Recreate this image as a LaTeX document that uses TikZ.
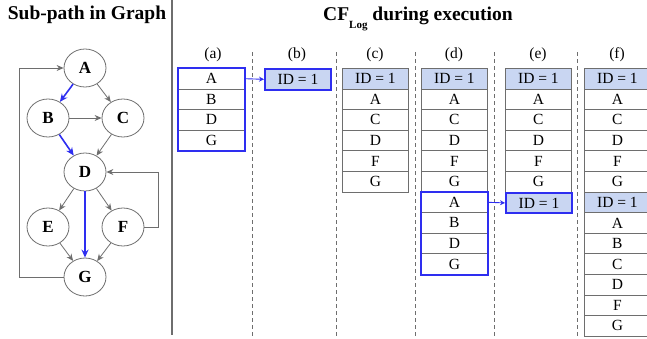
\documentclass[tikz,border=0pt]{standalone}
\usepackage{fontspec}
\setmainfont{Liberation Serif}
\usetikzlibrary{shapes.geometric,arrows.meta}
\definecolor{bblue}{HTML}{2E2EF0}
\definecolor{lblue}{HTML}{C9D6F2}
\definecolor{ggray}{HTML}{6E6E6E}
\tikzset{
  gnode/.style={ellipse,draw=ggray,line width=0.8pt,minimum width=42pt,minimum height=38pt,inner sep=0pt,font=\fontsize{17}{17}\selectfont\bfseries},
  garrow/.style={draw=ggray,line width=0.8pt,-{Stealth[length=7pt,width=6pt]}},
  barrow/.style={draw=bblue,line width=1.6pt,-{Stealth[length=8pt,width=7pt]}},
  cell/.style={rectangle,draw=ggray,line width=0.8pt,minimum width=66pt,minimum height=20.6pt,inner sep=0pt,anchor=north west,font=\fontsize{15.5}{15.5}\selectfont},
  idcell/.style={cell,fill=lblue},
  bluebox/.style={draw=bblue,line width=2pt},
  sarrow/.style={draw=bblue,line width=0.9pt,-{Stealth[length=5pt,width=5pt]}},
  sep/.style={draw=ggray,line width=0.8pt,dash pattern=on 4pt off 3pt},
  lab/.style={font=\fontsize{15.5}{15.5}\selectfont},
  ttl/.style={font=\fontsize{19.5}{19.5}\selectfont\bfseries,inner sep=0pt}
}
\newcommand\cellstack[5]{% prefix, x, y, start index, list
  \foreach \t [count=\i from #4] in {#5} {
    \node[cell] (#1-\i) at (#2, {#3+(\i-#4)*20.6}) {\t};
  }
}
\begin{document}
\begin{tikzpicture}[x=1pt,y=-1pt]
\useasboundingbox (0,0) rectangle (647,338);
\clip (0,0) rectangle (647,338);
% titles
\node[ttl,anchor=base] (t1) at (87,19) {Sub-path in Graph};
\node[ttl,anchor=base west] (t2) at (323,20) {CF\raisebox{-8pt}{\fontsize{11}{11}\selectfont Log} during execution};
% divider
\coordinate (dv1) at (172,0);
\coordinate (dv2) at (172,335);
\draw[ggray,line width=1.2pt] (dv1) -- (dv2);
% graph
\node[gnode] (A) at (85,68) {A};
\node[gnode] (B) at (48,118) {B};
\node[gnode] (C) at (123,118) {C};
\node[gnode] (D) at (85,172) {D};
\node[gnode] (E) at (48,227) {E};
\node[gnode] (F) at (123,227) {F};
\node[gnode] (G) at (85,277) {G};
\draw[barrow] (A) -- (B);
\draw[garrow] (A) -- (C);
\draw[garrow] (B) -- (C);
\draw[barrow] (B) -- (D);
\draw[garrow] (C) -- (D);
\draw[garrow] (D) -- (E);
\draw[garrow] (D) -- (F);
\draw[barrow] (D) -- (G);
\draw[garrow] (E) -- (G);
\draw[garrow] (F) -- (G);
\draw[garrow] (F.east) -- ++(14,0) |- (D.east);
\draw[garrow] (G.west) -- (19,277) |- (A.west);
% separators
\foreach \x [count=\k] in {252,336,415,494,577} {
  \coordinate (s\k a) at (\x,52);
  \coordinate (s\k b) at (\x,338);
  \draw[sep] (s\k a) -- (s\k b);
}
% column labels
\node[lab] (la) at (213,55) {(a)};
\node[lab] (lb) at (297,55) {(b)};
\node[lab] (lc) at (375,55) {(c)};
\node[lab] (ld) at (454,55) {(d)};
\node[lab] (le) at (538,55) {(e)};
\node[lab] (lf) at (617,55) {(f)};
% (a)
\cellstack{a}{178}{68}{1}{A,B,D,G}
\draw[bluebox] (a-1.north west) rectangle (a-4.south east);
% (b)
\node[idcell,draw=bblue,line width=2pt] (b-1) at (264,68) {ID = 1};
\draw[sarrow] (a-1.east) -- (b-1.west);
% (c)
\node[idcell] (c-0) at (342,68) {ID = 1};
\cellstack{c}{342}{88.6}{1}{A,C,D,F,G}
% (d)
\node[idcell] (d-0) at (421,68) {ID = 1};
\cellstack{d}{421}{88.6}{1}{A,C,D,F,G}
\cellstack{dd}{421}{191.6}{1}{A,B,D,G}
\draw[bluebox] (dd-1.north west) rectangle (dd-4.south east);
% (e)
\node[idcell] (e-0) at (505,68) {ID = 1};
\cellstack{e}{505}{88.6}{1}{A,C,D,F,G}
\node[idcell,draw=bblue,line width=2pt] (ee-1) at (505,191.6) {ID = 1};
\draw[sarrow] (dd-1.east) -- (ee-1.west);
% (f)
\node[idcell] (f-0) at (584,68) {ID = 1};
\cellstack{f}{584}{88.6}{1}{A,C,D,F,G}
\node[idcell] (ff-0) at (584,191.6) {ID = 1};
\cellstack{ff}{584}{212.2}{1}{A,B,C,D,F,G}
\end{tikzpicture}
\end{document}
